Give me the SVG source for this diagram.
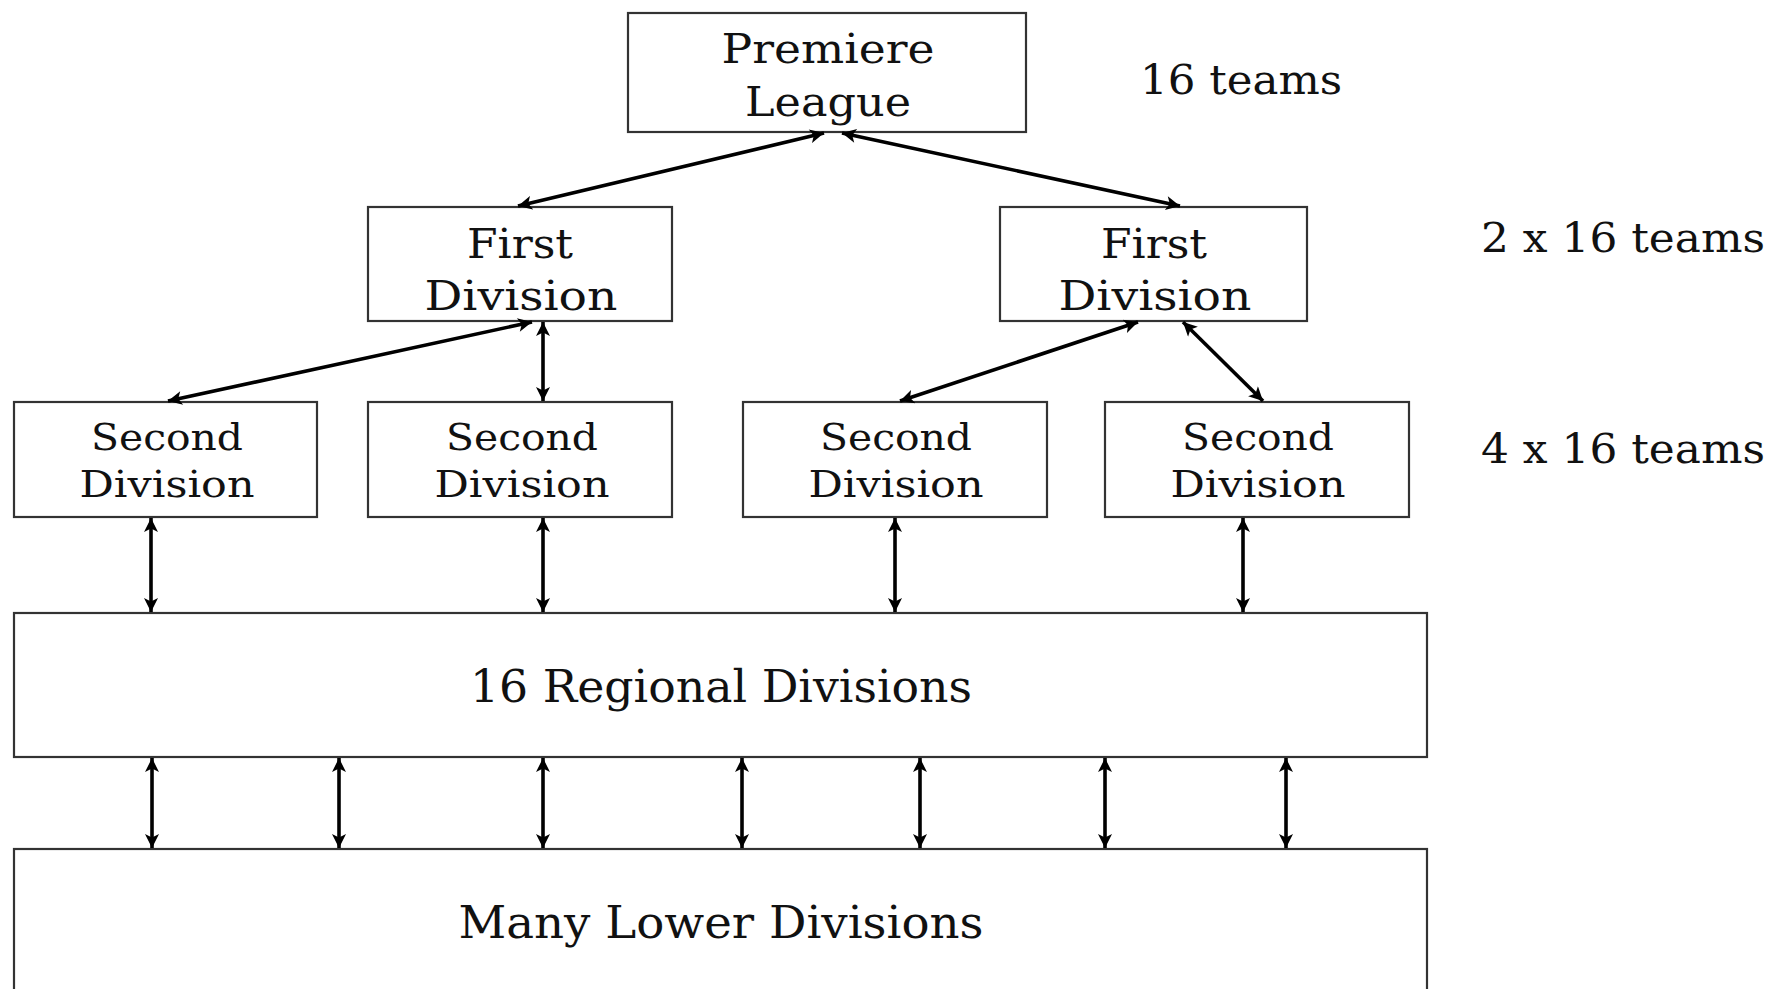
<svg xmlns="http://www.w3.org/2000/svg" width="1774" height="989" viewBox="0 0 1774 989">
<defs>
<marker id="ah" viewBox="0 0 12 12" markerUnits="userSpaceOnUse" markerWidth="15" markerHeight="14" refX="12" refY="6" orient="auto-start-reverse">
<path d="M0,0 L12,6 L0,12 L3,6 z" fill="#000"/>
</marker>
<style>
.box{fill:#fff;stroke:#333;stroke-width:2.2}
.t{font-family:"DejaVu Serif","Liberation Serif",serif;fill:#111;text-anchor:middle}
.s41{font-size:41px}
.s38{font-size:38px}
.s44{font-size:44px}
.l{text-anchor:start}
.c{stroke:#000;stroke-width:3.6;fill:none;marker-start:url(#ah);marker-end:url(#ah)}
</style>
</defs>
<rect width="1774" height="989" fill="#fff"/>
<g id="premiere">
<rect class="box" x="628" y="13" width="398" height="119"/>
<text class="t s41" x="828" y="63" textLength="213" lengthAdjust="spacingAndGlyphs">Premiere</text>
<text class="t s41" x="828" y="116" textLength="166" lengthAdjust="spacingAndGlyphs">League</text>
</g>
<g id="first-left">
<rect class="box" x="368" y="207" width="304" height="114"/>
<text class="t s41" x="520" y="258" textLength="106" lengthAdjust="spacingAndGlyphs">First</text>
<text class="t s41" x="521" y="310" textLength="193" lengthAdjust="spacingAndGlyphs">Division</text>
</g>
<g id="first-right">
<rect class="box" x="1000" y="207" width="307" height="114"/>
<text class="t s41" x="1154" y="258" textLength="106" lengthAdjust="spacingAndGlyphs">First</text>
<text class="t s41" x="1155" y="310" textLength="193" lengthAdjust="spacingAndGlyphs">Division</text>
</g>
<g id="second-1">
<rect class="box" x="14" y="402" width="303" height="115"/>
<text class="t s38" x="167" y="450" textLength="152" lengthAdjust="spacingAndGlyphs">Second</text>
<text class="t s38" x="167" y="497" textLength="175" lengthAdjust="spacingAndGlyphs">Division</text>
</g>
<g id="second-2">
<rect class="box" x="368" y="402" width="304" height="115"/>
<text class="t s38" x="522" y="450" textLength="152" lengthAdjust="spacingAndGlyphs">Second</text>
<text class="t s38" x="522" y="497" textLength="175" lengthAdjust="spacingAndGlyphs">Division</text>
</g>
<g id="second-3">
<rect class="box" x="743" y="402" width="304" height="115"/>
<text class="t s38" x="896" y="450" textLength="152" lengthAdjust="spacingAndGlyphs">Second</text>
<text class="t s38" x="896" y="497" textLength="175" lengthAdjust="spacingAndGlyphs">Division</text>
</g>
<g id="second-4">
<rect class="box" x="1105" y="402" width="304" height="115"/>
<text class="t s38" x="1258" y="450" textLength="152" lengthAdjust="spacingAndGlyphs">Second</text>
<text class="t s38" x="1258" y="497" textLength="175" lengthAdjust="spacingAndGlyphs">Division</text>
</g>
<g id="regional">
<rect class="box" x="14" y="613" width="1413" height="144"/>
<text class="t s44" x="721" y="702" textLength="502" lengthAdjust="spacingAndGlyphs">16 Regional Divisions</text>
</g>
<g id="lower">
<rect class="box" x="14" y="849" width="1413" height="170"/>
<text class="t s44" x="721" y="938" textLength="525" lengthAdjust="spacingAndGlyphs">Many Lower Divisions</text>
</g>
<g id="labels">
<text class="t s41 l" x="1140" y="94" textLength="202" lengthAdjust="spacingAndGlyphs">16 teams</text>
<text class="t s41 l" x="1481" y="252" textLength="284" lengthAdjust="spacingAndGlyphs">2 x 16 teams</text>
<text class="t s41 l" x="1481" y="463" textLength="284" lengthAdjust="spacingAndGlyphs">4 x 16 teams</text>
</g>
<g id="connectors">
<line class="c" x1="824" y1="133" x2="518" y2="206"/>
<line class="c" x1="842" y1="133" x2="1180" y2="206"/>
<line class="c" x1="532" y1="322" x2="168" y2="401"/>
<line class="c" x1="543" y1="322" x2="543" y2="401"/>
<line class="c" x1="1138" y1="322" x2="900" y2="401"/>
<line class="c" x1="1183" y1="322" x2="1263" y2="401"/>
<line class="c" x1="151" y1="518" x2="151" y2="612"/>
<line class="c" x1="543" y1="518" x2="543" y2="612"/>
<line class="c" x1="895" y1="518" x2="895" y2="612"/>
<line class="c" x1="1243" y1="518" x2="1243" y2="612"/>
<line class="c" x1="152" y1="758" x2="152" y2="848"/>
<line class="c" x1="339" y1="758" x2="339" y2="848"/>
<line class="c" x1="543" y1="758" x2="543" y2="848"/>
<line class="c" x1="742" y1="758" x2="742" y2="848"/>
<line class="c" x1="920" y1="758" x2="920" y2="848"/>
<line class="c" x1="1105" y1="758" x2="1105" y2="848"/>
<line class="c" x1="1286" y1="758" x2="1286" y2="848"/>
</g>
</svg>
